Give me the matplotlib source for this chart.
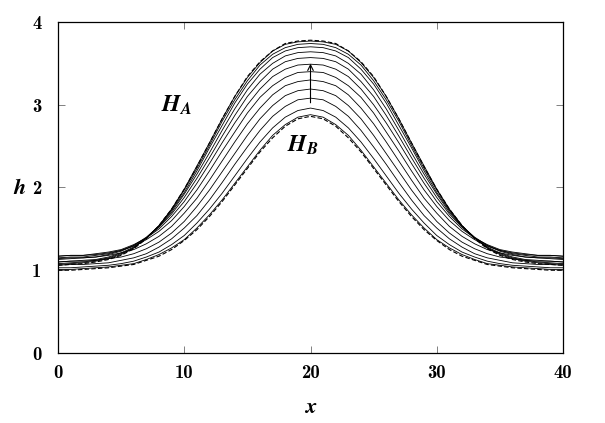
import matplotlib
matplotlib.use("Agg")
import matplotlib.pyplot as plt

plt.rcParams['mathtext.fontset'] = 'custom'
plt.rcParams['mathtext.bfit'] = 'STIXGeneral:italic:bold'
plt.rcParams['mathtext.it'] = 'STIXGeneral:italic:bold'

x = list(range(0, 41))

# profiles, from H_B (bottom) up to H_A (top)
h_B = [1.00, 1.00, 1.01, 1.02, 1.03, 1.05, 1.07, 1.12, 1.17, 1.25, 1.36, 1.49, 1.65, 1.83, 2.03, 2.23, 2.43, 2.60, 2.74, 2.83, 2.86,
       2.83, 2.74, 2.60, 2.43, 2.23, 2.03, 1.83, 1.65, 1.49, 1.36, 1.25, 1.17, 1.12, 1.07, 1.05, 1.03, 1.02, 1.01, 1.00, 1.00]
h_1 = [1.01, 1.01, 1.02, 1.03, 1.04, 1.06, 1.08, 1.13, 1.19, 1.27, 1.37, 1.51, 1.67, 1.85, 2.05, 2.25, 2.45, 2.63, 2.76, 2.85, 2.88,
       2.85, 2.76, 2.63, 2.45, 2.25, 2.05, 1.85, 1.67, 1.51, 1.37, 1.27, 1.19, 1.13, 1.08, 1.06, 1.04, 1.03, 1.02, 1.01, 1.01]
h_2 = [1.03, 1.03, 1.04, 1.05, 1.06, 1.08, 1.11, 1.16, 1.22, 1.31, 1.42, 1.57, 1.74, 1.93, 2.14, 2.35, 2.55, 2.72, 2.85, 2.93, 2.96,
       2.93, 2.85, 2.72, 2.55, 2.35, 2.14, 1.93, 1.74, 1.57, 1.42, 1.31, 1.22, 1.16, 1.11, 1.08, 1.06, 1.05, 1.04, 1.03, 1.03]
h_3 = [1.06, 1.07, 1.07, 1.08, 1.09, 1.12, 1.15, 1.20, 1.28, 1.38, 1.51, 1.66, 1.85, 2.06, 2.28, 2.49, 2.69, 2.86, 2.98, 3.06, 3.08,
       3.06, 2.98, 2.86, 2.69, 2.49, 2.28, 2.06, 1.85, 1.66, 1.51, 1.38, 1.28, 1.20, 1.15, 1.12, 1.09, 1.08, 1.07, 1.07, 1.06]
h_4 = [1.10, 1.11, 1.11, 1.12, 1.14, 1.16, 1.20, 1.26, 1.34, 1.45, 1.59, 1.77, 1.97, 2.19, 2.41, 2.63, 2.83, 2.99, 3.11, 3.17, 3.19,
       3.17, 3.11, 2.99, 2.83, 2.63, 2.41, 2.19, 1.97, 1.77, 1.59, 1.45, 1.34, 1.26, 1.20, 1.16, 1.14, 1.12, 1.11, 1.11, 1.10]
h_5 = [1.14, 1.15, 1.15, 1.16, 1.18, 1.21, 1.25, 1.32, 1.41, 1.53, 1.69, 1.87, 2.09, 2.32, 2.55, 2.77, 2.96, 3.12, 3.23, 3.28, 3.30,
       3.28, 3.23, 3.12, 2.96, 2.77, 2.55, 2.32, 2.09, 1.87, 1.69, 1.53, 1.41, 1.32, 1.25, 1.21, 1.18, 1.16, 1.15, 1.15, 1.14]
h_6 = [1.17, 1.18, 1.18, 1.19, 1.21, 1.24, 1.29, 1.37, 1.47, 1.60, 1.77, 1.97, 2.20, 2.44, 2.67, 2.90, 3.09, 3.23, 3.33, 3.39, 3.40,
       3.39, 3.33, 3.23, 3.09, 2.90, 2.67, 2.44, 2.20, 1.97, 1.77, 1.60, 1.47, 1.37, 1.29, 1.24, 1.21, 1.19, 1.18, 1.18, 1.17]
h_7 = [1.17, 1.18, 1.18, 1.20, 1.22, 1.25, 1.31, 1.39, 1.50, 1.65, 1.83, 2.05, 2.29, 2.54, 2.78, 3.00, 3.19, 3.34, 3.43, 3.48, 3.49,
       3.48, 3.43, 3.34, 3.19, 3.00, 2.78, 2.54, 2.29, 2.05, 1.83, 1.65, 1.50, 1.39, 1.31, 1.25, 1.22, 1.20, 1.18, 1.18, 1.17]
h_8 = [1.15, 1.16, 1.16, 1.18, 1.20, 1.24, 1.30, 1.39, 1.52, 1.68, 1.88, 2.11, 2.36, 2.62, 2.87, 3.10, 3.28, 3.43, 3.52, 3.56, 3.57,
       3.56, 3.52, 3.43, 3.28, 3.10, 2.87, 2.62, 2.36, 2.11, 1.88, 1.68, 1.52, 1.39, 1.30, 1.24, 1.20, 1.18, 1.16, 1.16, 1.15]
h_9 = [1.13, 1.14, 1.15, 1.16, 1.19, 1.23, 1.30, 1.40, 1.53, 1.70, 1.92, 2.16, 2.42, 2.69, 2.95, 3.18, 3.37, 3.50, 3.59, 3.63, 3.64,
       3.63, 3.59, 3.50, 3.37, 3.18, 2.95, 2.69, 2.42, 2.16, 1.92, 1.70, 1.53, 1.40, 1.30, 1.23, 1.19, 1.16, 1.15, 1.14, 1.13]
h_10 = [1.10, 1.11, 1.12, 1.13, 1.16, 1.21, 1.28, 1.39, 1.53, 1.72, 1.94, 2.20, 2.48, 2.75, 3.02, 3.25, 3.43, 3.57, 3.65, 3.69, 3.70,
        3.69, 3.65, 3.57, 3.43, 3.25, 3.02, 2.75, 2.48, 2.20, 1.94, 1.72, 1.53, 1.39, 1.28, 1.21, 1.16, 1.13, 1.12, 1.11, 1.10]
h_11 = [1.08, 1.09, 1.10, 1.12, 1.15, 1.20, 1.27, 1.39, 1.54, 1.73, 1.97, 2.23, 2.51, 2.80, 3.06, 3.29, 3.48, 3.61, 3.69, 3.73, 3.74,
        3.73, 3.69, 3.61, 3.48, 3.29, 3.06, 2.80, 2.51, 2.23, 1.97, 1.73, 1.54, 1.39, 1.27, 1.20, 1.15, 1.12, 1.10, 1.09, 1.08]
h_12 = [1.07, 1.08, 1.09, 1.11, 1.14, 1.19, 1.27, 1.39, 1.54, 1.74, 1.98, 2.26, 2.54, 2.83, 3.10, 3.33, 3.51, 3.65, 3.73, 3.76, 3.77,
        3.76, 3.73, 3.65, 3.51, 3.33, 3.10, 2.83, 2.54, 2.26, 1.98, 1.74, 1.54, 1.39, 1.27, 1.19, 1.14, 1.11, 1.09, 1.08, 1.07]
h_A = [1.06, 1.07, 1.08, 1.10, 1.13, 1.18, 1.26, 1.38, 1.54, 1.74, 1.98, 2.25, 2.54, 2.83, 3.10, 3.34, 3.52, 3.65, 3.74, 3.77, 3.78,
       3.77, 3.74, 3.65, 3.52, 3.34, 3.10, 2.83, 2.54, 2.25, 1.98, 1.74, 1.54, 1.38, 1.26, 1.18, 1.13, 1.10, 1.08, 1.07, 1.06]

steps = [h_1, h_2, h_3, h_4, h_5, h_6, h_7, h_8, h_9, h_10, h_11, h_12]

xticks = [0, 10, 20, 30, 40]
yticks = [0, 1, 2, 3, 4]

fig = plt.figure(figsize=(6.05, 4.23), dpi=100)
ax = fig.add_axes([58/605, 1-353/423, 505/605, 331/423])

for h in steps:
    ax.plot(x, h, color='k', lw=0.6)
ax.plot(x, h_B, color='k', lw=0.8, ls=(0, (4, 2)))
ax.plot(x, h_A, color='k', lw=0.8, ls=(0, (4, 2)))

ax.annotate('', xy=(20, 3.53), xytext=(20, 2.99),
            arrowprops=dict(arrowstyle='->', lw=0.8, color='k'))
ax.text(9.4, 3.0, r'$\mathbfit{H_A}$', fontsize=17, ha='center', va='center')
ax.text(19.4, 2.51, r'$\mathbfit{H_B}$', fontsize=17, ha='center', va='center')

ax.set_xlim(0, 40)
ax.set_ylim(0, 4)
ax.set_xticks(xticks)
ax.set_yticks(yticks)
ax.set_xticklabels([str(v) for v in xticks], fontfamily='cmb10', fontsize=13.5)
ax.set_yticklabels([str(v) for v in yticks], fontfamily='cmb10', fontsize=13.5)
ax.tick_params(direction='in', length=5, width=0.5, color='0.3', top=True, right=True)
ax.tick_params(axis='x', pad=8)
ax.tick_params(axis='y', pad=12)
for s in ax.spines.values():
    s.set_linewidth(0.9)

ax.set_xlabel(r'$\mathbfit{x}$', fontsize=16)
ax.xaxis.set_label_coords(0.5, -0.163)
ax.xaxis.label.set_va('center')
ax.set_ylabel(r'$\mathbfit{h}$', fontsize=16, rotation=0)
ax.yaxis.set_label_coords(-0.076, 0.5)
ax.yaxis.label.set_va('center')

fig.savefig("out.png")
